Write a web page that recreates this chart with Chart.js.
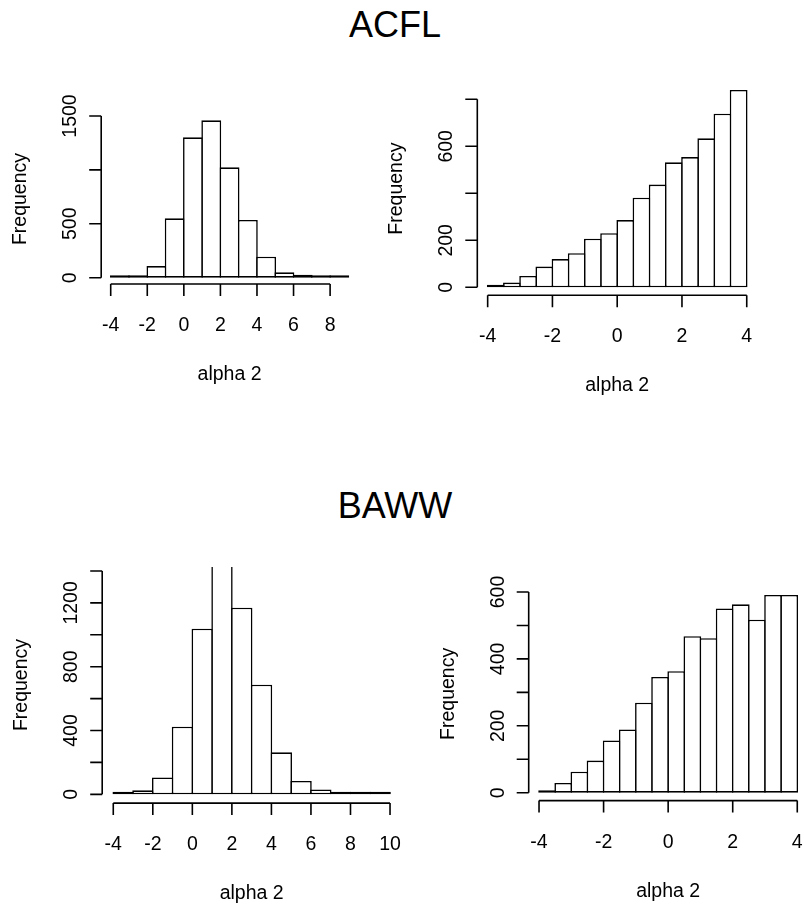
<!DOCTYPE html>
<html>
<head>
<meta charset="utf-8">
<title>alpha 2</title>
<script src="https://cdn.jsdelivr.net/npm/chart.js@4.4.1/dist/chart.umd.min.js"></script>
<style>
  html, body { margin: 0; padding: 0; background: #fff; overflow: hidden; }
  body { width: 804px; height: 904px; position: relative; font-family: "Liberation Sans", Arial, sans-serif; }
  .title { position: absolute; left: 0; width: 790px; text-align: center; font-size: 36px; line-height: 1; color: #000; }
  canvas { position: absolute; }
</style>
</head>
<body>
<div class="title" style="top: 7px;">ACFL</div>
<div class="title" style="top: 488px;">BAWW</div>
<canvas id="acflLeft"></canvas>
<canvas id="acflRight"></canvas>
<canvas id="bawwLeft"></canvas>
<canvas id="bawwRight"></canvas>
<script>
// ACFL, coarse bins
const acflLeftBreaks = [-4, -3, -2, -1, 0, 1, 2, 3, 4, 5, 6, 7, 8, 9];
const acflLeftCounts = [4, 9, 108, 551, 1302, 1460, 1024, 535, 195, 50, 28, 8, 6];
const acflLeftXTicks = [-4, -2, 0, 2, 4, 6, 8];
const acflLeftYTicks = [0, 500, 1000, 1500];
const acflLeftYLabels = ['0', '500', '', '1500'];

// ACFL, half-unit bins
const acflRightBreaks = [-4, -3.5, -3, -2.5, -2, -1.5, -1, -0.5, 0, 0.5, 1, 1.5, 2, 2.5, 3, 3.5, 4];
const acflRightCounts = [3, 20, 48, 88, 120, 145, 207, 230, 286, 381, 437, 532, 554, 634, 739, 840];
const acflRightXTicks = [-4, -2, 0, 2, 4];
const acflRightYTicks = [0, 200, 400, 600, 800];
const acflRightYLabels = ['0', '200', '', '600', ''];

// BAWW, coarse bins
const bawwLeftBreaks = [-4, -3, -2, -1, 0, 1, 2, 3, 4, 5, 6, 7, 8, 9, 10];
const bawwLeftCounts = [5, 25, 106, 424, 1038, 1480, 1170, 687, 263, 84, 31, 8, 5, 5];
const bawwLeftXTicks = [-4, -2, 0, 2, 4, 6, 8, 10];
const bawwLeftYTicks = [0, 200, 400, 600, 800, 1000, 1200, 1400];
const bawwLeftYLabels = ['0', '', '400', '', '800', '', '1200', ''];

// BAWW, half-unit bins
const bawwRightBreaks = [-4, -3.5, -3, -2.5, -2, -1.5, -1, -0.5, 0, 0.5, 1, 1.5, 2, 2.5, 3, 3.5, 4];
const bawwRightCounts = [6, 29, 63, 96, 156, 189, 269, 346, 363, 468, 462, 551, 563, 517, 591, 591];
const bawwRightXTicks = [-4, -2, 0, 2, 4];
const bawwRightYTicks = [0, 100, 200, 300, 400, 500, 600];
const bawwRightYLabels = ['0', '', '200', '', '400', '', '600'];

const FONT = '19.5px "Liberation Sans", Arial, sans-serif';
const LINE = 1.6;

// base-graphics style axes: detached lines spanning first..last tick
const rAxes = {
    id: 'rAxes',
    afterDraw(chart, args, opts) {
        const { ctx, chartArea } = chart;
        const xs = chart.scales.x;
        const ys = chart.scales.y;
        const tick = 12;
        ctx.save();
        ctx.strokeStyle = '#000';
        ctx.fillStyle = '#000';
        ctx.lineWidth = LINE;
        ctx.font = FONT;

        // x axis
        const yb = chartArea.bottom;
        ctx.beginPath();
        ctx.moveTo(xs.getPixelForValue(opts.xTicks[0]), yb);
        ctx.lineTo(xs.getPixelForValue(opts.xTicks[opts.xTicks.length - 1]), yb);
        opts.xTicks.forEach(v => {
            const px = xs.getPixelForValue(v);
            ctx.moveTo(px, yb);
            ctx.lineTo(px, yb + tick);
        });
        // y axis
        const xl = chartArea.left;
        ctx.moveTo(xl, ys.getPixelForValue(opts.yTicks[0]));
        ctx.lineTo(xl, ys.getPixelForValue(opts.yTicks[opts.yTicks.length - 1]));
        opts.yTicks.forEach(v => {
            const py = ys.getPixelForValue(v);
            ctx.moveTo(xl, py);
            ctx.lineTo(xl - tick, py);
        });
        ctx.stroke();

        ctx.textAlign = 'center';
        ctx.textBaseline = 'alphabetic';
        opts.xTicks.forEach(v => {
            ctx.fillText(String(v), xs.getPixelForValue(v), yb + opts.labelGap);
        });
        ctx.fillText(opts.xTitle, (chartArea.left + chartArea.right) / 2, yb + 96);

        opts.yTicks.forEach((v, i) => {
            if (!opts.yLabels[i]) return;
            ctx.save();
            ctx.translate(xl - 25, ys.getPixelForValue(v));
            ctx.rotate(-Math.PI / 2);
            ctx.fillText(opts.yLabels[i], 0, 0);
            ctx.restore();
        });
        ctx.save();
        ctx.translate(xl - 75, (chartArea.top + chartArea.bottom) / 2);
        ctx.rotate(-Math.PI / 2);
        ctx.fillText(opts.yTitle, 0, 0);
        ctx.restore();

        ctx.restore();
    }
};

function drawHist(p) {
    const canvas = document.getElementById(p.id);
    const a = p.area;
    const left = Math.floor(a.left) - 110;
    const top = Math.floor(a.top) - 20;
    const width = Math.ceil(a.right) + 20 - left;
    const height = Math.ceil(a.bottom) + 110 - top;
    canvas.width = width;
    canvas.height = height;
    canvas.style.left = left + 'px';
    canvas.style.top = top + 'px';

    const bars = p.counts.map((c, i) => ({ x: (p.breaks[i] + p.breaks[i + 1]) / 2, y: c }));
    const binWidth = p.breaks[1] - p.breaks[0];
    // widen each bar by one line width so neighbouring outlines sit on the shared break
    const binPx = binWidth * (a.right - a.left) / (p.xRange[1] - p.xRange[0]);

    new Chart(canvas, {
        type: 'bar',
        data: {
            datasets: [{
                data: bars,
                backgroundColor: '#ffffff',
                borderColor: '#000000',
                borderSkipped: false,
                borderWidth: LINE,
                barPercentage: (binPx + LINE) / binPx,
                categoryPercentage: 1,
                // near-empty bins still show as a solid outline on the baseline
                minBarLength: 2.5,
                clip: 0
            }]
        },
        options: {
            responsive: false,
            animation: false,
            events: [],
            layout: {
                padding: {
                    left: a.left - left,
                    top: a.top - top,
                    right: left + width - a.right,
                    bottom: top + height - a.bottom
                }
            },
            plugins: {
                legend: { display: false },
                tooltip: { enabled: false },
                rAxes: {
                    xTicks: p.xTicks,
                    yTicks: p.yTicks,
                    yLabels: p.yLabels,
                    xTitle: 'alpha 2',
                    yTitle: 'Frequency',
                    labelGap: 47
                }
            },
            scales: {
                x: {
                    type: 'linear',
                    display: false,
                    offset: false,
                    min: p.xRange[0],
                    max: p.xRange[1],
                    ticks: { stepSize: binWidth, includeBounds: false }
                },
                y: {
                    type: 'linear',
                    display: false,
                    min: p.yRange[0],
                    max: p.yRange[1]
                }
            }
        },
        plugins: [rAxes]
    });
}

document.addEventListener('DOMContentLoaded', function() {
    drawHist({
        id: 'acflLeft', breaks: acflLeftBreaks, counts: acflLeftCounts,
        xTicks: acflLeftXTicks, yTicks: acflLeftYTicks, yLabels: acflLeftYLabels,
        area: { left: 101.2, top: 114.0, right: 357.9, bottom: 284.0 },
        xRange: [-4.52, 9.52], yRange: [-58.4, 1518.4]
    });
    drawHist({
        id: 'acflRight', breaks: acflRightBreaks, counts: acflRightCounts,
        xTicks: acflRightXTicks, yTicks: acflRightYTicks, yLabels: acflRightYLabels,
        area: { left: 477.3, top: 82.0, right: 757.1, bottom: 295.2 },
        xRange: [-4.32, 4.32], yRange: [-33.6, 873.6]
    });
    drawHist({
        id: 'bawwLeft', breaks: bawwLeftBreaks, counts: bawwLeftCounts,
        xTicks: bawwLeftXTicks, yTicks: bawwLeftYTicks, yLabels: bawwLeftYLabels,
        area: { left: 102.2, top: 567.0, right: 401.1, bottom: 803.1 },
        xRange: [-4.56, 10.56], yRange: [-55, 1425]
    });
    drawHist({
        id: 'bawwRight', breaks: bawwRightBreaks, counts: bawwRightCounts,
        xTicks: bawwRightXTicks, yTicks: bawwRightYTicks, yLabels: bawwRightYLabels,
        area: { left: 528.7, top: 587.1, right: 807.6, bottom: 800.6 },
        xRange: [-4.32, 4.32], yRange: [-23.6, 614.6]
    });
});
</script>
</body>
</html>
